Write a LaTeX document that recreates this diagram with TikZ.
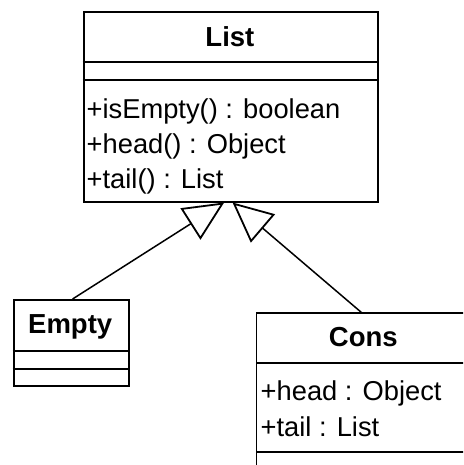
\documentclass[tikz,border=0pt]{standalone}
\usepackage{fontspec}
\setmainfont{Liberation Sans}
\usetikzlibrary{arrows.meta}
\begin{document}
\begin{tikzpicture}[x=1pt,y=-1pt,
  umlbox/.style={draw=black, line width=1.8pt, fill=white, anchor=north west, inner sep=0pt},
  openbox/.style={anchor=north west, inner sep=0pt},
  divider/.style={draw=black, line width=1.8pt},
  classname/.style={anchor=base, inner sep=0pt, font=\fontsize{27.5}{27.5}\selectfont\bfseries},
  member/.style={anchor=base west, inner sep=0pt, font=\fontsize{27.3}{27.3}\selectfont},
  inherit/.style={draw=black, line width=1.5pt, -{Triangle[open, length=40pt, width=37pt, line width=1.8pt]}}
]
\useasboundingbox (0,0) rectangle (463,465);
\fill[white] (0,0) rectangle (463,465);
\begin{scope}
\clip (0,0) rectangle (463,465);

% List class
\node[umlbox, minimum width=294.3pt, minimum height=189.7pt] (list) at (82.7,11) {};
\draw[divider] (82.7,61.7) -- (377,61.7);
\draw[divider] (82.7,80.3) -- (377,80.3);
\node[classname] (listname) at (229.9,46.7) {List};
\node[member] (m1) at (86.5,118.3) {+isEmpty() : boolean};
\node[member] (m2) at (86.5,153.3) {+head() : Object};
\node[member] (m3) at (86.5,188.3) {+tail() : List};

% Empty class
\node[umlbox, minimum width=115pt, minimum height=86pt] (empty) at (12.7,299) {};
\draw[divider] (12.7,351) -- (127.7,351);
\draw[divider] (12.7,369.3) -- (127.7,369.3);
\node[classname] (emptyname) at (70.2,333.3) {Empty};

% Cons class (runs past the picture's right and bottom edges)
\node[openbox, minimum width=300pt, minimum height=250pt] (cons) at (256.5,312.7) {};
\draw[divider] (cons.south west) -- (cons.north west) -- (cons.north east);
\draw[divider] (256.5,363) -- (520,363);
\draw[divider] (256.5,451.7) -- (520,451.7);
\node[classname] (consname) at (363.3,346.7) {Cons};
\node[member] (a1) at (260.5,400) {+head : Object};
\node[member] (a2) at (260.5,436.5) {+tail : List};

% Generalizations
\coordinate (tipL) at ([xshift=-6.6pt]list.south);
\coordinate (tipR) at ([xshift=1.8pt]list.south);
\draw[inherit] ([xshift=1.5pt]empty.north) -- (tipL);
\draw[inherit] ([xshift=105.2pt]cons.north west) -- (tipR);
\end{scope}
\end{tikzpicture}
\end{document}
